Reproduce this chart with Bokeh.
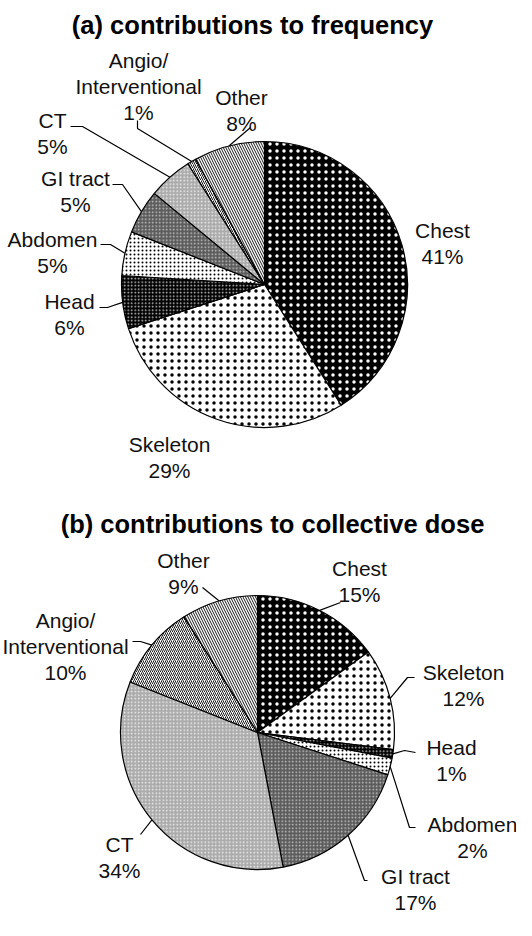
import numpy as np
from bokeh.plotting import figure
from bokeh.models import Range1d, ColumnDataSource
from bokeh.core.properties import value
from bokeh.embed import file_html
from bokeh.resources import INLINE

# ---------------- data ----------------
categories = ["Chest", "Skeleton", "Head", "Abdomen", "GI tract", "CT",
              "Angio/\nInterventional", "Other"]
percent_frequency = [41, 29, 6, 5, 5, 5, 1, 8]
percent_dose = [15, 12, 1, 2, 17, 34, 10, 9]
titles = ["(a) contributions to frequency", "(b) contributions to collective dose"]

# ---------------- styles ----------------
FILL = {"Chest": "#000000", "Skeleton": "#ffffff", "Head": "#000000", "Abdomen": "#ffffff",
        "GI tract": "#5c5c5c", "CT": "#ababab", "Angio/\nInterventional": "#ffffff", "Other": "#ffffff"}
HATCH = {"Chest": ".", "Skeleton": ".", "Head": ".", "Abdomen": ".",
         "GI tract": ".", "CT": ".", "Angio/\nInterventional": "/", "Other": "\\"}
HATCH_COLOR = {"Chest": "#ffffff", "Skeleton": "#000000", "Head": "#cfcfcf", "Abdomen": "#000000",
               "GI tract": "#c8c8c8", "CT": "#f0f0f0", "Angio/\nInterventional": "#000000", "Other": "#000000"}
HATCH_SCALE = {"Chest": 7, "Skeleton": 7, "Head": 3.5, "Abdomen": 4,
               "GI tract": 3.5, "CT": 3.5, "Angio/\nInterventional": 4, "Other": 5}
HATCH_WEIGHT = {"Chest": 0.5, "Skeleton": 0.5, "Head": 0.5, "Abdomen": 0.6,
                "GI tract": 0.5, "CT": 0.5, "Angio/\nInterventional": 0.9, "Other": 0.9}

# ---------------- layout (page pixels, y measured from top) ----------------
PAGE_H = 936
FONT = "Liberation Sans"
LABEL_SIZE = 21
LINE_STEP = 26

pies = [
    dict(values=percent_frequency, title=titles[0], title_pos=(260, 32),
         center=(272, 292), radius=143,
         labels={"Chest": (450, 238), "Skeleton": (177, 452), "Head": (77, 309),
                 "Abdomen": (60, 247), "GI tract": (83, 186), "CT": (60, 128),
                 "Angio/\nInterventional": (146, 68), "Other": (249, 105)},
         leaders={"Head": [(107, 315), (115, 315)], "Abdomen": [(108, 252), (118, 252)],
                  "GI tract": [(120, 192), (130, 192)], "CT": [(78, 134), (90, 134)],
                  "Angio/\nInterventional": [(145, 128), (145, 136)], "Other": [(258, 135)]}),
    dict(values=percent_dose, title=titles[1], title_pos=(280, 531),
         center=(265, 740), radius=137,
         labels={"Chest": (367, 576), "Skeleton": (471, 680), "Head": (459, 755),
                 "Abdomen": (480, 832), "GI tract": (423, 884), "CT": (127, 852),
                 "Angio/\nInterventional": (73, 628), "Other": (191, 568)},
         leaders={"Chest": [(348, 610)], "Skeleton": [(422, 685), (415, 685)],
                  "Head": [(423, 760), (412, 758)], "Abdomen": [(423, 835), (417, 835)],
                  "GI tract": [(375, 888), (372, 888)], "CT": [(148, 842)],
                  "Angio/\nInterventional": [(140, 649), (148, 649)], "Other": [(210, 595)]}),
]

p = figure(width=516, height=920, x_range=Range1d(8, 524), y_range=Range1d(8, 928),
           output_backend="svg", toolbar_location=None, min_border=0,
           x_axis_location=None, y_axis_location=None, outline_line_color=None)
p.xgrid.visible = False
p.ygrid.visible = False
p.background_fill_color = "#ffffff"


def fy(y):
    return PAGE_H - y


for pie in pies:
    vals = np.array(pie["values"], dtype=float)
    frac = vals / vals.sum()
    cum_end = np.cumsum(frac)
    cum_start = cum_end - frac
    start = np.pi / 2 - 2 * np.pi * cum_start
    end = np.pi / 2 - 2 * np.pi * cum_end
    mid = (start + end) / 2
    cx, cy = pie["center"][0], fy(pie["center"][1])
    r = pie["radius"]

    src = ColumnDataSource(dict(
        start=start, end=end,
        fill=[FILL[c] for c in categories],
        hatch=[HATCH[c] for c in categories],
        hcolor=[HATCH_COLOR[c] for c in categories],
        hscale=[HATCH_SCALE[c] for c in categories],
        hweight=[HATCH_WEIGHT[c] for c in categories],
    ))
    p.wedge(x=cx, y=cy, radius=r, start_angle="start", end_angle="end", direction="clock",
            source=src, fill_color="fill", line_color="black", line_width=1.2,
            hatch_pattern="hatch", hatch_color="hcolor", hatch_scale="hscale",
            hatch_weight="hweight")

    # leader lines
    xs, ys = [], []
    for i, c in enumerate(categories):
        if c in pie["leaders"]:
            pts = pie["leaders"][c]
            ex = cx + r * np.cos(mid[i])
            ey = cy + r * np.sin(mid[i])
            xs.append([q[0] for q in pts] + [ex])
            ys.append([fy(q[1]) for q in pts] + [ey])
    p.multi_line(xs=xs, ys=ys, line_color="black", line_width=1.2)

    # labels
    tx, ty, tt = [], [], []
    for i, c in enumerate(categories):
        lx, ly = pie["labels"][c]
        lines = c.split("\n") + [f"{pie['values'][i]:g}%"]
        for k, s in enumerate(lines):
            tx.append(lx)
            ty.append(fy(ly + k * LINE_STEP))
            tt.append(s)
    p.text(x=tx, y=ty, text=tt, text_font=value(FONT), text_font_size=f"{LABEL_SIZE}px",
           text_align="center", text_baseline="alphabetic", text_color="#111111")

    # title
    p.text(x=[pie["title_pos"][0]], y=[fy(pie["title_pos"][1])], text=[pie["title"]],
           text_font=value(FONT), text_font_size="25.5px", text_font_style="bold",
           text_align="center", text_baseline="alphabetic", text_color="#000000")

open("out.html", "w").write(file_html(p, INLINE))
